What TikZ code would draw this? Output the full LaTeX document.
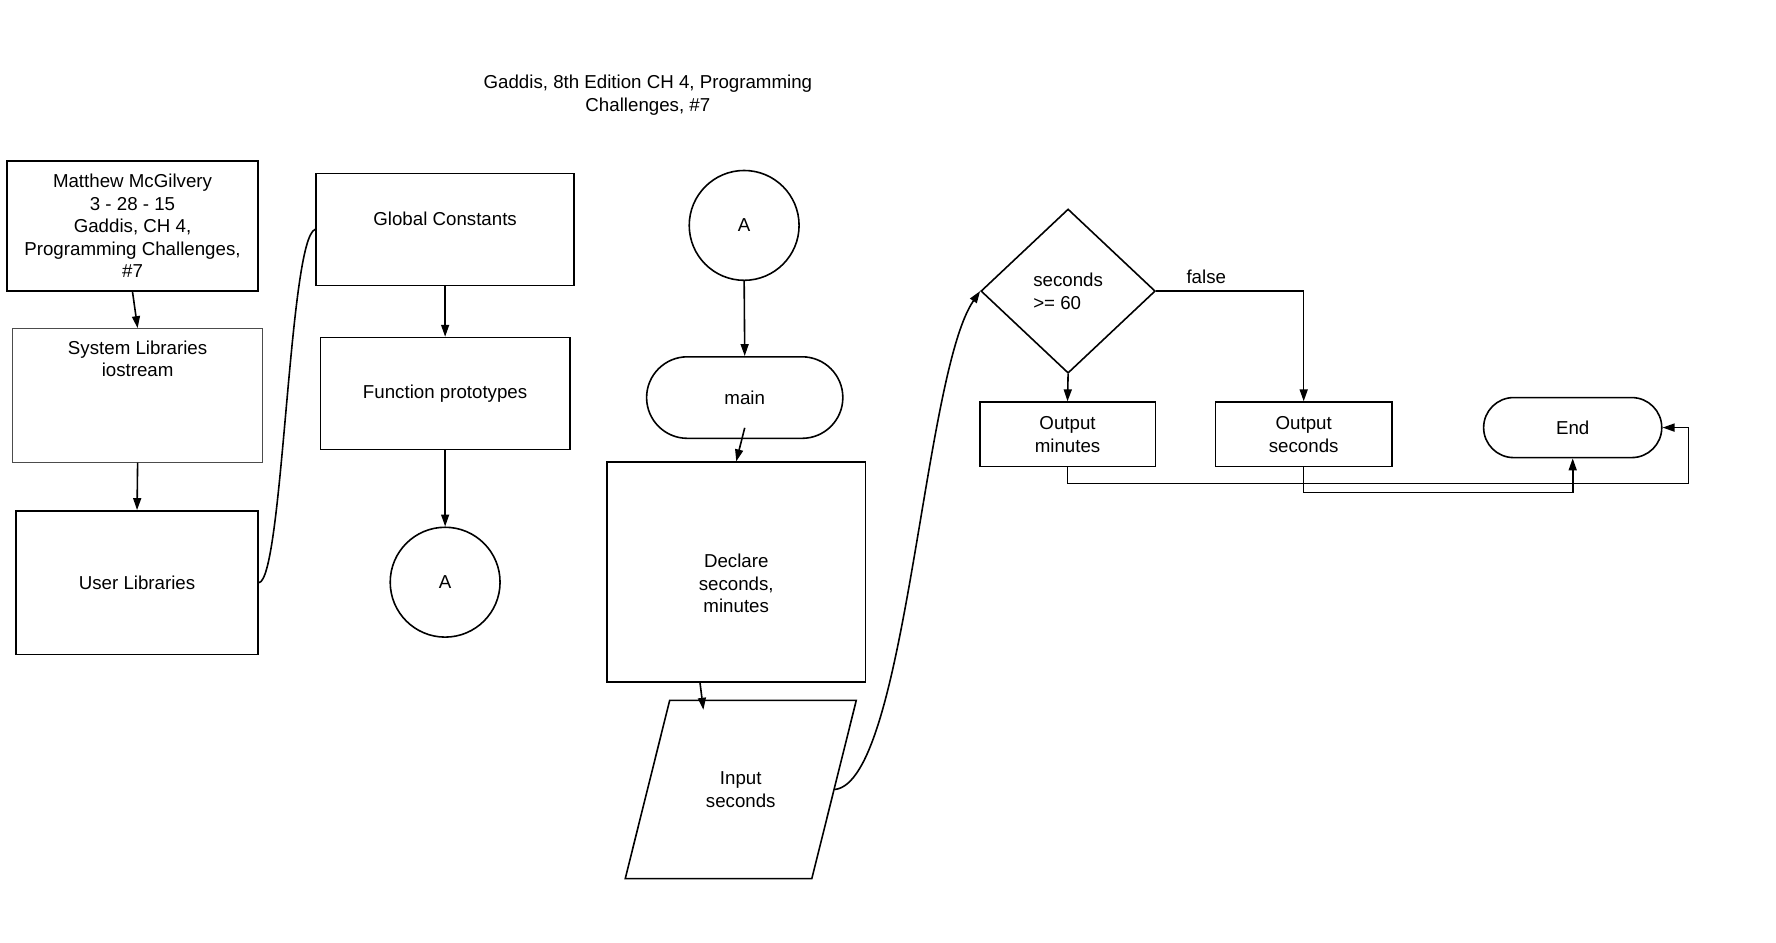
\documentclass[tikz,border=0pt]{standalone}
\usepackage{fontspec}
\setmainfont{Liberation Sans}
\usetikzlibrary{shapes.geometric,shapes.misc,arrows.meta}
\begin{document}
\begin{tikzpicture}[
    x=0.02cm, y=-0.02cm,
    font=\fontsize{9.4}{11.3}\selectfont,
    box/.style={rectangle, draw, line width=0.8pt, align=center},
    conn/.style={circle, draw, line width=0.8pt, minimum size=1.94cm},
    term/.style={rounded rectangle, draw, line width=0.8pt},
    arrow/.style={-{Triangle[length=6pt,width=4pt]}, line width=0.8pt},
    link/.style={line width=0.8pt},
]
\useasboundingbox (0,0) rectangle (1568,832);

% Title
\node[align=center] (title) at (572,84) {Gaddis, 8th Edition CH 4, Programming\\Challenges, \#7};

% Header and libraries
\node[box, minimum width=4.44cm, minimum height=2.3cm] (author) at (117,199.5) {Matthew McGilvery\\3 - 28 - 15\\Gaddis, CH 4,\\Programming Challenges,\\\#7};
\node[box, draw=black!70, line width=0.4pt, minimum width=4.42cm, minimum height=2.36cm,
      label={[anchor=north, align=center, yshift=-0.1cm]north:System Libraries\\iostream}] (syslib) at (121.5,349) {};
\node[box, minimum width=4.28cm, minimum height=2.54cm] (userlib) at (121,514.5) {User Libraries};

% Globals and prototypes
\node[box, minimum width=4.56cm, minimum height=1.98cm,
      label={[anchor=north, yshift=-0.57cm]north:Global Constants}] (globconst) at (393,202.5) {};
\node[box, minimum width=4.4cm, minimum height=1.98cm] (funcproto) at (393,347.5) {Function prototypes};
\node[conn] (conA) at (393,514) {A};

% main
\node[conn] (conB) at (657,199) {A};
\node[term, minimum width=3.7cm, minimum height=1.44cm] (main) at (657.5,351) {main};
\node[box, minimum width=4.56cm, minimum height=3.88cm,
      label={[align=center, yshift=-0.2cm]center:Declare\\seconds,\\minutes}] (declare) at (650,505) {};
\node[trapezium, draw, line width=0.8pt, align=center, trapezium left angle=76, trapezium right angle=104,
      trapezium stretches body, inner ysep=1.26cm, inner xsep=0.1cm, minimum width=4.08cm] (input) at (654,697) {Input\\seconds};

% Decision and outputs
\node[diamond, draw, line width=0.8pt, align=left, inner sep=0pt, minimum width=3.08cm, minimum height=2.9cm] (check) at (943,257) {seconds\\>= 60};
\node[box, minimum width=3.1cm, minimum height=1.14cm] (outmin) at (942.5,383.5) {Output\\minutes};
\node[box, minimum width=3.12cm, minimum height=1.14cm] (outsec) at (1151,383.5) {Output\\seconds};
\node[term, minimum width=3.38cm, minimum height=1.06cm] (endterm) at (1388.5,377.5) {End};

% Connectors
\draw[arrow] (author.south) -- (syslib.north);
\draw[arrow] (syslib.south) -- (userlib.north);
\draw[link] (userlib.east) .. controls (250,510) and (255,210) .. (globconst.west);
\draw[arrow] (globconst.south) -- (funcproto.north);
\draw[arrow] (funcproto.south) -- (conA.north);
\draw[arrow] (conB.south) -- (main.north);
\draw[arrow] ([yshift=0.2cm]main.south) -- (declare.north);
\draw[arrow] ([xshift=-0.64cm]declare.south) -- ([xshift=-0.66cm,yshift=-0.18cm]input.north);
\draw[arrow] (input.east) .. controls (800,690) and (815,330) .. (check.west);
\draw[arrow] (check.south) -- (outmin.north);
\draw[arrow] (check.east) -| node[pos=0.17, above] {false} (outsec.north);
\draw[arrow] (outmin.south) -- ++(0,-0.28cm) -| ([xshift=0.46cm]endterm.east) -- (endterm.east);
\draw[arrow] (outsec.south) -- ++(0,-0.44cm) -| (endterm.south);
\end{tikzpicture}
\end{document}
